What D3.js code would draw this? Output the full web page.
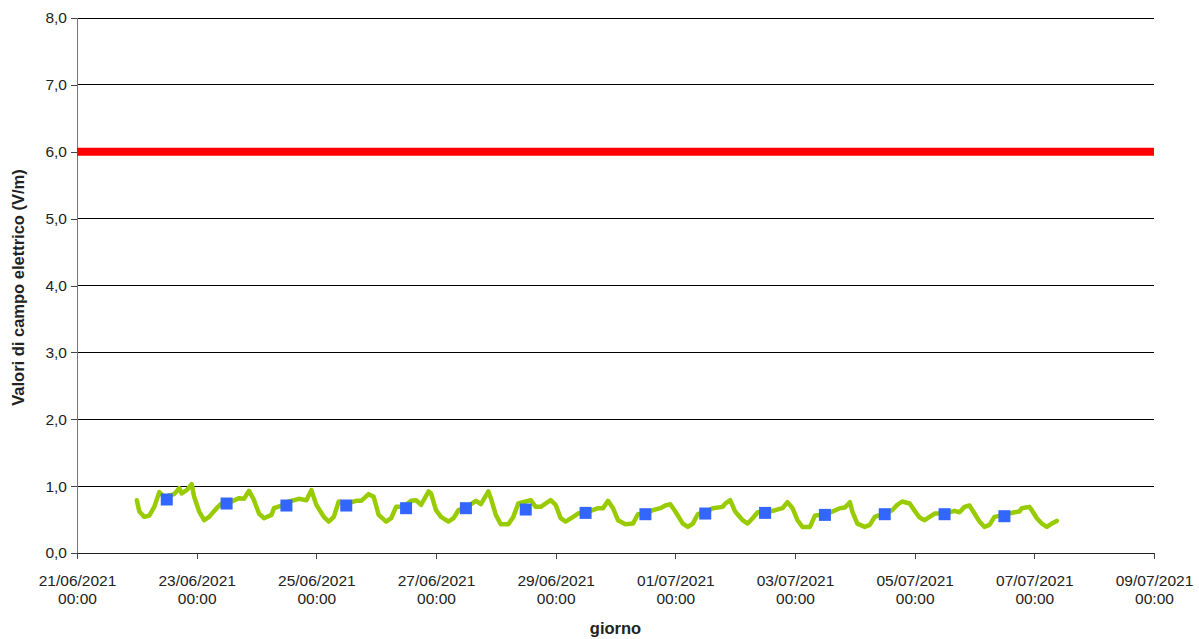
<!DOCTYPE html>
<html>
<head>
<meta charset="utf-8">
<script src="https://cdn.jsdelivr.net/npm/d3@7"></script>
<style>
  body { margin: 0; background: #fff; }
  svg { display: block; font-family: "Liberation Sans", Arial, sans-serif; }
</style>
</head>
<body>
<svg id="chart" width="1199" height="639"></svg>
<script>
// hours after 21/06/2021 00:00 and measured field (V/m)
const lineHours = [24, 25, 27, 29, 31, 33, 35, 39, 41, 42, 44, 46, 47, 49, 51, 53, 56, 58, 62, 65, 67, 69, 71, 73, 75, 78, 79,
  82, 85, 89, 92, 94, 96, 99, 101, 103, 105, 108, 112, 114, 117, 119, 121, 124, 126, 128, 131, 134, 136, 138, 141,
  142, 144, 146, 149, 151, 153, 156, 160, 162, 165, 166, 168, 170, 173, 175, 177, 180, 182, 184, 186, 190, 192, 194, 196, 199, 201,
  203, 206, 209, 211, 213, 215, 217, 220, 223, 225, 228, 231, 234, 236, 238, 240, 243, 245, 247, 249, 252, 255, 259,
  260, 262, 264, 267, 269, 271, 273, 276, 280, 283, 285, 287, 289, 291, 294, 296, 299, 303, 306, 308, 310, 311, 313, 316, 318, 320, 323,
  324, 327, 329, 331, 334, 336, 338, 340, 342, 344, 348, 352, 354, 356, 358, 360, 362, 364, 366, 368, 372, 376, 378, 379, 382, 383, 385, 387, 389, 391, 393];
const lineValues = [0.79, 0.62, 0.54, 0.56, 0.69, 0.91, 0.84, 0.88, 0.97, 0.89, 0.94, 1.03, 0.84, 0.62, 0.49, 0.54, 0.67, 0.74, 0.77, 0.82, 0.81, 0.93, 0.79, 0.59, 0.52, 0.57, 0.67,
  0.71, 0.77, 0.81, 0.79, 0.94, 0.72, 0.54, 0.47, 0.54, 0.77, 0.74, 0.78, 0.78, 0.88, 0.84, 0.57, 0.47, 0.52, 0.69, 0.69, 0.78, 0.79, 0.72, 0.92,
  0.89, 0.64, 0.54, 0.47, 0.52, 0.64, 0.68, 0.78, 0.73, 0.92, 0.82, 0.57, 0.43, 0.43, 0.54, 0.74, 0.77, 0.79, 0.69, 0.69, 0.79, 0.72, 0.52, 0.47, 0.54, 0.59,
  0.61, 0.63, 0.67, 0.67, 0.78, 0.67, 0.49, 0.43, 0.44, 0.58, 0.59, 0.64, 0.67, 0.71, 0.73, 0.62, 0.44, 0.39, 0.44, 0.58, 0.61, 0.67, 0.69,
  0.74, 0.79, 0.62, 0.49, 0.44, 0.52, 0.61, 0.61, 0.64, 0.67, 0.76, 0.67, 0.49, 0.39, 0.39, 0.56, 0.57, 0.62, 0.67, 0.68, 0.76, 0.62, 0.44, 0.39, 0.42, 0.54, 0.58,
  0.59, 0.64, 0.72, 0.77, 0.74, 0.63, 0.53, 0.49, 0.54, 0.59, 0.59, 0.63, 0.61, 0.69, 0.71, 0.59, 0.47, 0.39, 0.42, 0.54, 0.57, 0.61, 0.62, 0.67, 0.69, 0.64, 0.52, 0.44, 0.39, 0.44, 0.48];

// daily means, plotted at 12:00 of each day from 22/06 to 06/07
const dailyDays = ["22/06/2021", "23/06/2021", "24/06/2021", "25/06/2021", "26/06/2021", "27/06/2021", "28/06/2021", "29/06/2021",
  "30/06/2021", "01/07/2021", "02/07/2021", "03/07/2021", "04/07/2021", "05/07/2021", "06/07/2021"];
const dailyValues = [0.80, 0.74, 0.71, 0.71, 0.67, 0.67, 0.65, 0.60, 0.58, 0.59, 0.60, 0.57, 0.58, 0.58, 0.55];

const limitValue = 6.0;
const yTicks = [0, 1, 2, 3, 4, 5, 6, 7, 8];
const xTickDays = ["21/06/2021", "23/06/2021", "25/06/2021", "27/06/2021", "29/06/2021", "01/07/2021", "03/07/2021", "05/07/2021", "07/07/2021", "09/07/2021"];

const parseDay = d3.timeParse("%d/%m/%Y");
const start = parseDay("21/06/2021");
const end = parseDay("09/07/2021");

const margin = { top: 18, right: 45, bottom: 86, left: 77 };
const width = 1199 - margin.left - margin.right;
const height = 639 - margin.top - margin.bottom;

const svg = d3.select("#chart");
const g = svg.append("g").attr("transform", `translate(${margin.left},${margin.top})`);

const x = d3.scaleTime().domain([start, end]).range([0, width]);
const y = d3.scaleLinear().domain([0, 8]).range([height, 0]);

// gridlines
g.selectAll(".grid").data(yTicks.filter(t => t > 0)).enter().append("line")
  .attr("x1", 0).attr("x2", width)
  .attr("y1", d => y(d)).attr("y2", d => y(d))
  .attr("stroke", "#000").attr("stroke-width", 1).attr("shape-rendering", "crispEdges");

// y axis
const yAxis = g.append("g")
  .call(d3.axisLeft(y).tickValues(yTicks).tickSize(6).tickPadding(4)
    .tickFormat(d => d3.format(".1f")(d).replace(".", ",")));
yAxis.select(".domain").attr("stroke", "#777").attr("shape-rendering", "crispEdges");
yAxis.selectAll(".tick line").attr("stroke", "#444").attr("shape-rendering", "crispEdges");
yAxis.selectAll("text").attr("font-size", 15.5).attr("fill", "#222");

// x axis
const xAxis = g.append("g").attr("transform", `translate(0,${height})`)
  .call(d3.axisBottom(x).tickValues(xTickDays.map(parseDay)).tickSize(6).tickFormat(""));
xAxis.select(".domain").attr("stroke", "#222").attr("shape-rendering", "crispEdges");
xAxis.selectAll(".tick line").attr("stroke", "#444").attr("shape-rendering", "crispEdges");
const lbl = xAxis.selectAll(".tick").append("text")
  .attr("fill", "#222").attr("font-size", 15.5).attr("text-anchor", "middle");
lbl.append("tspan").attr("x", 0).attr("y", 33).text((d, i) => xTickDays[i]);
lbl.append("tspan").attr("x", 0).attr("y", 51).text("00:00");

// limit line
g.append("line")
  .attr("x1", 0).attr("x2", width)
  .attr("y1", y(limitValue)).attr("y2", y(limitValue))
  .attr("stroke", "#ff0000").attr("stroke-width", 8);

// measured series
const lineData = lineHours.map((h, i) => ({ t: d3.timeHour.offset(start, h), v: lineValues[i] }));
g.append("path").datum(lineData)
  .attr("fill", "none").attr("stroke", "#99cc00").attr("stroke-width", 4.5)
  .attr("stroke-linejoin", "round").attr("stroke-linecap", "round")
  .attr("d", d3.line().x(d => x(d.t)).y(d => y(d.v)));

// daily means
const sq = 12;
g.selectAll(".mean").data(dailyDays).enter().append("rect")
  .attr("x", d => x(d3.timeHour.offset(parseDay(d), 12)) - sq / 2)
  .attr("y", (d, i) => y(dailyValues[i]) - sq / 2)
  .attr("width", sq).attr("height", sq)
  .attr("fill", "#3366ff");

// axis titles
svg.append("text")
  .attr("transform", `translate(24,${margin.top + height / 2 + 2}) rotate(-90)`)
  .attr("text-anchor", "middle").attr("font-size", 16.5).attr("font-weight", "bold").attr("fill", "#222")
  .text("Valori di campo elettrico (V/m)");
svg.append("text")
  .attr("x", margin.left + width / 2).attr("y", 634)
  .attr("text-anchor", "middle").attr("font-size", 16.5).attr("font-weight", "bold").attr("fill", "#222")
  .text("giorno");
</script>
</body>
</html>
